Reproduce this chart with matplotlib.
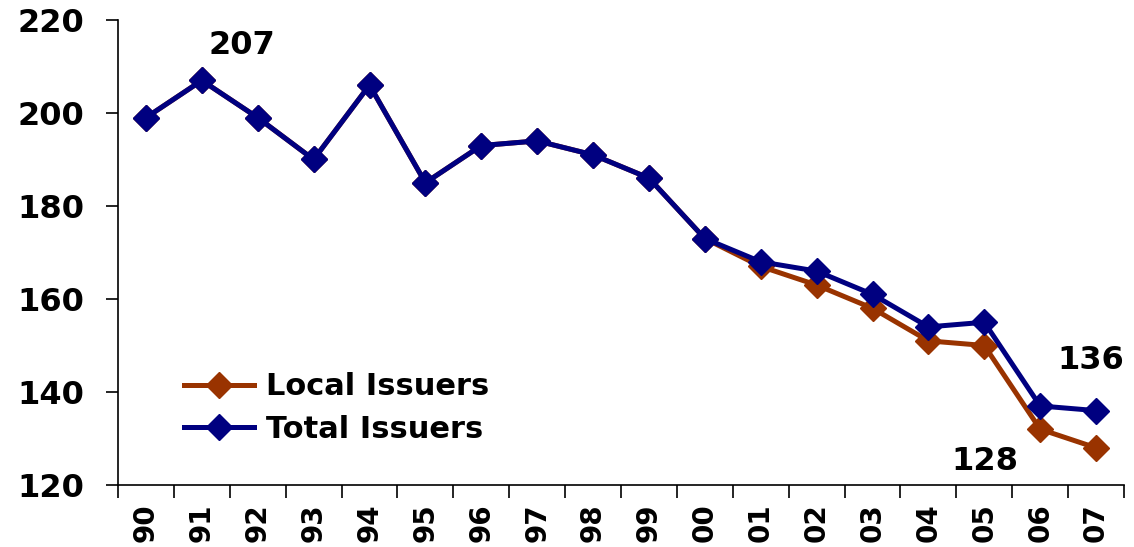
import numpy as np
import matplotlib
matplotlib.use("Agg")
import matplotlib.pyplot as plt

# chart data
years = ["90", "91", "92", "93", "94", "95", "96", "97", "98",
         "99", "00", "01", "02", "03", "04", "05", "06", "07"]
total_issuers = [199, 207, 199, 190, 206, 185, 193, 194, 191,
                 186, 173, 168, 166, 161, 154, 155, 137, 136]
local_issuers = [199, 207, 199, 190, 206, 185, 193, 194, 191,
                 186, 173, 167, 163, 158, 151, 150, 132, 128]
y_ticks = [120, 140, 160, 180, 200, 220]

plt.rcParams['font.family'] = ['DejaVu Sans']
plt.rcParams['font.weight'] = 'bold'

fig = plt.figure(figsize=(11.34, 5.47), dpi=100)
ax = fig.add_axes([118 / 1134, 62 / 547, 1006 / 1134, 465 / 547])

x = np.arange(len(years))
ax.plot(x, local_issuers, color='#993300', lw=3.6, marker='D', ms=13,
        label='Local Issuers')
ax.plot(x, total_issuers, color='#000080', lw=3.6, marker='D', ms=13,
        label='Total Issuers')

ax.set_xlim(-0.5, len(years) - 0.5)
ax.set_ylim(120, 220)
ax.set_yticks(y_ticks)
ax.tick_params(axis='y', labelsize=23, length=9, width=1.2, pad=15)

# tick marks between categories, labels at centres
ax.set_xticks(np.arange(len(years) + 1) - 0.5)
ax.set_xticklabels([])
ax.set_xticks(x, minor=True)
ax.set_xticklabels(years, minor=True, rotation=90, fontsize=20, fontweight='bold')
ax.tick_params(axis='x', which='major', length=9, width=1.2)
ax.tick_params(axis='x', which='minor', length=0, pad=13)

for lab in ax.get_yticklabels():
    lab.set_fontweight('bold')

ax.spines['top'].set_visible(False)
ax.spines['right'].set_visible(False)
ax.spines['left'].set_linewidth(1.2)
ax.spines['bottom'].set_linewidth(1.2)

# value labels
ax.annotate(str(total_issuers[1]), (1, total_issuers[1]), xytext=(29, 25),
            textcoords='offset points', ha='center', va='center',
            fontsize=23, fontweight='bold')
ax.annotate(str(total_issuers[-1]), (17, total_issuers[-1]), xytext=(-4, 36),
            textcoords='offset points', ha='center', va='center',
            fontsize=23, fontweight='bold')
ax.annotate(str(local_issuers[-1]), (17, local_issuers[-1]), xytext=(-80, -10),
            textcoords='offset points', ha='center', va='center',
            fontsize=23, fontweight='bold')

ax.legend(loc='upper left', bbox_to_anchor=(0.05, 0.275), frameon=False,
          prop={'size': 22, 'weight': 'bold'}, numpoints=1,
          handlelength=2.3, handletextpad=0.4, labelspacing=0.45,
          borderpad=0)

fig.savefig("out.png", dpi=100)
